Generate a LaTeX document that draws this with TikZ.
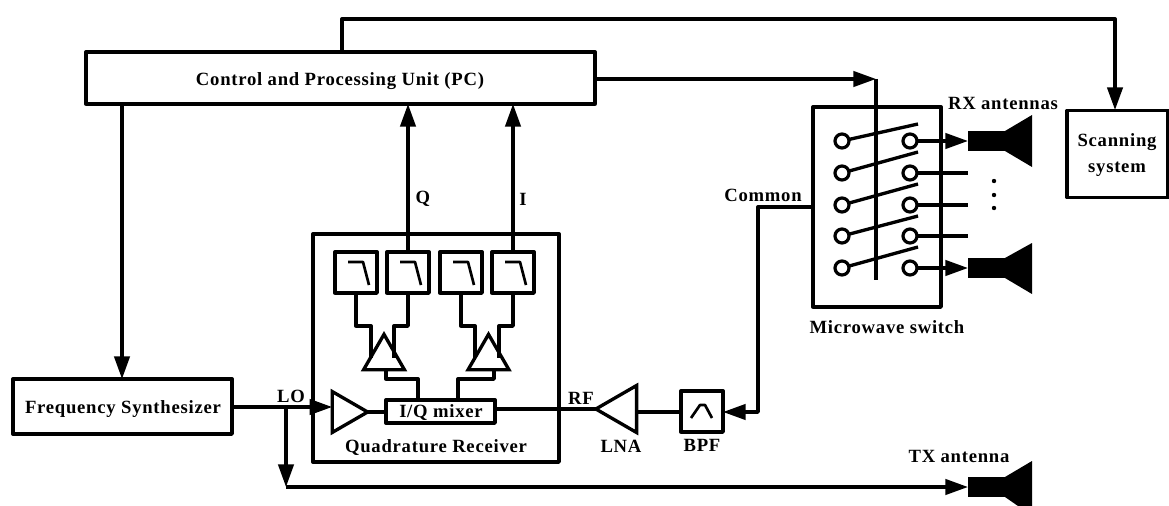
\documentclass[tikz,border=0pt]{standalone}
\usepackage{fontspec}
\setmainfont{Liberation Serif}[LetterSpace=4]
\usetikzlibrary{arrows.meta,shapes.geometric}
\tikzset{
  x=0.75pt,y=-0.75pt,
  wire/.style={line width=2.5pt,line join=round},
  arrowed/.style={wire,-{Triangle[length=17pt,width=11.5pt]}},
  blockbox/.style 2 args={draw,line width=2.5pt,line join=round,inner sep=0pt,outer sep=0pt,
     minimum width=#1*0.75pt,minimum height=#2*0.75pt,align=center},
  lbl/.style={inner sep=0pt,font=\fontsize{14pt}{17pt}\selectfont\bfseries},
  amp/.style 2 args={draw,line width=2.5pt,regular polygon,regular polygon sides=3,
     inner sep=0pt,outer sep=0pt,minimum size=#1*0.75pt,shape border rotate=#2},
  port/.style={draw,circle,line width=2.4pt,inner sep=0pt,outer sep=0pt,minimum size=14*0.75pt},
  horn/.style={fill=black,inner sep=0pt,outer sep=0pt,minimum width=37*0.75pt,minimum height=20*0.75pt},
  sym/.style={line width=2pt,line join=round},
}
\begin{document}
\begin{tikzpicture}
\useasboundingbox (0,0) rectangle (1169,506);
% blocks
\node[blockbox={509}{52}] (pc) at (340.5,78) {};
\node[lbl] (pct) at (340,81) {Control and Processing Unit (PC)};
\node[blockbox={219}{55}] (fs) at (122.5,406.5) {};
\node[lbl] (fst) at (123,409) {Frequency Synthesizer};
\node[blockbox={101}{87}] (scan) at (1117.5,154) {};
\node[lbl,align=center] (scant) at (1117,155) {Scanning\\[2pt]system};
\node[blockbox={246}{228}] (qr) at (436,348) {};
\node[lbl] (qrt) at (436,448) {Quadrature Receiver};
\node[blockbox={128}{200}] (ms) at (877,207) {};
\node[lbl] (mst) at (887,327) {Microwave switch};
% filters
\node[blockbox={42}{41}] (f1) at (356,272.5) {};
\node[blockbox={42}{41}] (f2) at (408,272.5) {};
\node[blockbox={42}{41}] (f3) at (461,272.5) {};
\node[blockbox={42}{41}] (f4) at (513,272.5) {};
\foreach \n in {f1,f2,f3,f4}
  \draw[sym] ([shift={(13,10)}]\n.north west) -- ([shift={(28,10)}]\n.north west) -- ([shift={(34,33)}]\n.north west);
% amplifiers
\node[amp={47.3}{0}] (a1) at (384,358) {};
\node[amp={47.3}{0}] (a2) at (488.5,358) {};
\node[amp={47.3}{-90}] (lo) at (344,412) {};
\node[amp={54.3}{90}] (lna) at (623,409) {};
% mixer, BPF
\node[blockbox={109}{23}] (mix) at (440.5,411.5) {};
\node[lbl] (mixt) at (441,413) {I/Q mixer};
\node[blockbox={42}{41}] (bpf) at (702,411.5) {};
\draw[sym] ([shift={(10,27)}]bpf.north west) -- ([shift={(19,14)}]bpf.north west) -- ([shift={(24,14)}]bpf.north west) -- ([shift={(31,27)}]bpf.north west);
% wires from filters to amps
\coordinate (a1l) at (371,358);
\coordinate (a1r) at (394,358);
\coordinate (a2l) at (475,358);
\coordinate (a2r) at (499,358);
\draw[wire] (f1.south) -- ++(0,33) -| (a1l);
\draw[wire] (f2.south) -- ++(0,33) -| (a1r);
\draw[wire] (f3.south) -- ++(0,33) -| (a2l);
\draw[wire] (f4.south) -- ++(0,33) -| (a2r);
% amps to mixer
\coordinate (a1o) at (386,370);
\coordinate (a2o) at (494,370);
\coordinate (m1) at (418,400);
\coordinate (m2) at (458,400);
\draw[wire] (a1o) -- ++(0,9) -| (m1);
\draw[wire] (a2o) -- ++(0,9) -| (m2);
% I, Q
\draw[arrowed] (f2.north) -- (f2.north |- pc.south);
\draw[arrowed] (f4.north) -- (f4.north |- pc.south);
\node[lbl] (q) at (423,199) {Q};
\node[lbl] (i) at (523,199) {I};
% PC to synth
\coordinate (pcs) at (122,104);
\draw[arrowed] (pcs) -- (pcs |- fs.north);
% LO
\coordinate (lob) at (286,407);
\coordinate (lod) at (286,487);
\draw[arrowed] (fs.east |- lob) -- (lo.side 2 |- lob);
\draw[arrowed] (lob) -- (lod);
\node[lbl] (lol) at (291,396) {LO};
\draw[wire] (lo.corner 1) -- (lo.corner 1 -| mix.west);
% RF
\node[lbl] (rf) at (581,398) {RF};
\coordinate (mixo) at (495,409);
\draw[wire] (mixo) -- (lna.corner 1);
\coordinate (lnai) at (636,412);
\draw[wire] (lnai) -- (lnai -| bpf.west);
\node[lbl] (lnat) at (621,446) {LNA};
\node[lbl] (bpft) at (702,445) {BPF};
% Common
\coordinate (cv) at (758,207);
\coordinate (cb) at (758,412);
\draw[arrowed] (ms.west) -- (cv) -- (cb) -- (cb -| bpf.east);
\node[lbl] (com) at (763,195) {Common};
% switch ports
\foreach \k/\y in {1/141,2/173,3/205,4/236,5/268}{
  \node[port] (pl\k) at (842,\y) {};
  \node[port] (pr\k) at (910,\y) {};
}
\coordinate (e1) at (918,124);
\coordinate (e2) at (918,152);
\coordinate (e3) at (918,184);
\coordinate (e4) at (918,216);
\coordinate (e5) at (918,247);
\foreach \k in {1,...,5}
  \draw[wire] (pl\k) -- (e\k);
% antennas
\node[horn] (rx1) at (986.5,141) {};
\fill (rx1.north east) -- (1032,115) -- (1032,167) -- (rx1.south east) -- cycle;
\node[horn] (rx2) at (986.5,268) {};
\fill (rx2.north east) -- (1032,243) -- (1032,294) -- (rx2.south east) -- cycle;
\node[horn] (tx) at (986.5,487) {};
\fill (tx.north east) -- (1032,461) -- (1032,506) -- (1018,506) -- (tx.south east) -- cycle;
\draw[arrowed] (pr1) -- (rx1);
\draw[arrowed] (pr5) -- (rx2);
\coordinate (t2) at (968,173);
\coordinate (t3) at (968,205);
\coordinate (t4) at (968,236);
\draw[wire] (pr2) -- (t2);
\draw[wire] (pr3) -- (t3);
\draw[wire] (pr4) -- (t4);
\foreach \y in {181,195,208}
  \fill (994,\y) circle (2.2);
\node[lbl] (rxl) at (1003,103) {RX antennas};
\node[lbl] (txl) at (959,456) {TX antenna};
\draw[arrowed] (lod) -- (tx.west);
% control lines
\coordinate (sw) at (876,79);
\coordinate (swe) at (876,280);
\draw[arrowed] (pc.east |- sw) -- (sw);
\draw[wire] (sw) -- (swe);
\coordinate (top) at (342,19);
\draw[arrowed] (top |- pc.north) -- (top) -| (1115,110);
\end{tikzpicture}
\end{document}
